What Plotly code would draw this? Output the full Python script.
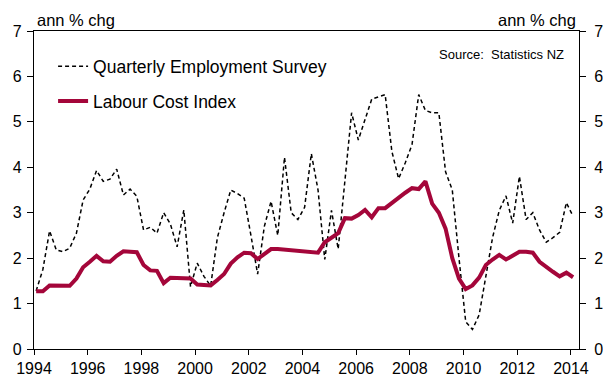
import plotly.graph_objects as go

# Quarterly data, 1994Q1 .. 2014Q1
start_year = 1994.08
qes = [1.28, 1.75, 2.6, 2.18, 2.14, 2.22, 2.55, 3.28, 3.52, 3.93,
       3.69, 3.74, 3.96, 3.39, 3.52, 3.36, 2.62, 2.68, 2.55, 3.0,
       2.75, 2.25, 3.06, 1.37, 1.89, 1.6, 1.39, 2.45, 3.0, 3.5,
       3.42, 3.32, 2.5, 1.65, 2.7, 3.25, 2.5, 4.22, 3.0, 2.85,
       3.12, 4.3, 3.5, 1.97, 3.05, 2.2, 3.7, 5.2, 4.6, 5.05,
       5.5, 5.55, 5.6, 4.35, 3.75, 4.1, 4.5, 5.6, 5.25, 5.2,
       5.2, 3.9, 3.5, 2.0, 0.6, 0.43, 0.75, 1.6, 2.45, 3.05,
       3.37, 2.77, 3.8, 2.85, 3.0, 2.62, 2.35, 2.45, 2.57, 3.22,
       2.92]
lci = [1.27, 1.27, 1.4, 1.4, 1.39, 1.39, 1.55, 1.8, 1.92, 2.05,
       1.93, 1.92, 2.05, 2.15, 2.14, 2.13, 1.85, 1.73, 1.72, 1.45,
       1.57, 1.56, 1.55, 1.55, 1.42, 1.41, 1.4, 1.52, 1.65, 1.88,
       2.02, 2.12, 2.11, 1.98, 2.1, 2.2, 2.2, 2.19, 2.18, 2.17,
       2.16, 2.14, 2.12, 2.35, 2.45, 2.55, 2.88, 2.87, 2.95, 3.06,
       2.9, 3.1, 3.1, 3.22, 3.32, 3.44, 3.54, 3.52, 3.69, 3.2,
       3.0, 2.65, 2.0, 1.55, 1.32, 1.4, 1.57, 1.85, 1.97, 2.07,
       1.97, 2.05, 2.14, 2.14, 2.12, 1.92, 1.8, 1.7, 1.6, 1.68,
       1.58]
years = [start_year + 0.25 * i for i in range(len(qes))]
x_ticks = list(range(1994, 2015, 2))
y_ticks = list(range(0, 8))

font = "Liberation Sans, Arial, sans-serif"

fig = go.Figure()
fig.add_trace(go.Scatter(x=years, y=qes, mode="lines", name="Quarterly Employment Survey",
                         legendgroup="qes",
                         line=dict(color="black", width=1.5, dash="4px,3px")))
fig.add_trace(go.Scatter(x=years, y=lci, mode="lines", name="Labour Cost Index",
                         legendgroup="lci",
                         line=dict(color="#A4063A", width=4)))
# invisible trace for right axis
fig.add_trace(go.Scatter(x=[years[0]], y=[lci[0]], yaxis="y2", mode="lines",
                         showlegend=False, hoverinfo="skip", line=dict(width=0)))

axis_common = dict(ticks="outside", tickcolor="black", showline=True,
                   linecolor="black", linewidth=1.2, showgrid=False, zeroline=False,
                   tickfont=dict(size=16), automargin=False)

fig.update_layout(
    width=603, height=381,
    margin=dict(l=34, r=24, t=31, b=32),
    paper_bgcolor="white", plot_bgcolor="white",
    font=dict(family=font, size=16, color="black"),
    xaxis=dict(range=[1994, 2014.3], tickvals=x_ticks, mirror=True, ticklen=5,
               **axis_common),
    yaxis=dict(range=[0, 7], tickvals=y_ticks, ticklen=6, ticklabelstandoff=2,
               **axis_common),
    yaxis2=dict(range=[0, 7], tickvals=y_ticks, ticklen=6, ticklabelstandoff=5,
                overlaying="y", side="right", **axis_common),
    legend=dict(x=0.035, y=0.945, xanchor="left", yanchor="top", bgcolor="rgba(0,0,0,0)",
                font=dict(size=17.5), itemwidth=30, tracegroupgap=9),
    showlegend=True,
    annotations=[
        dict(text="ann % chg", x=0, xref="paper", xanchor="left", xshift=1,
             y=1, yref="paper", yanchor="bottom", yshift=0, showarrow=False,
             font=dict(size=16.5)),
        dict(text="ann % chg", x=1, xref="paper", xanchor="right", xshift=-1,
             y=1, yref="paper", yanchor="bottom", yshift=0, showarrow=False,
             font=dict(size=16.5)),
        dict(text="Source:  Statistics NZ", x=0.977, xref="paper", xanchor="right",
             y=0.955, yref="paper", yanchor="top", showarrow=False,
             font=dict(size=13)),
    ],
)

fig.write_html("out.html")
